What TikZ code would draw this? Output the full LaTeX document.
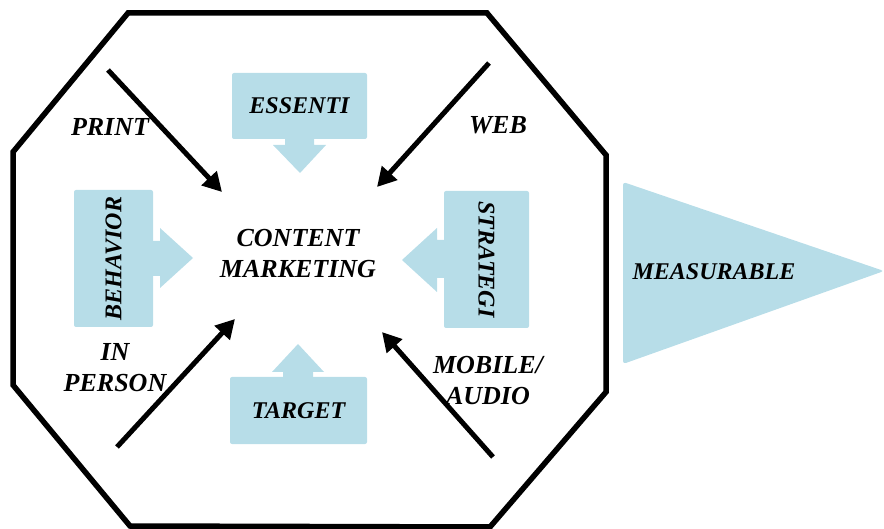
\documentclass[tikz,border=0pt]{standalone}
\usepackage{fontspec}
\setmainfont{Liberation Serif}
\usetikzlibrary{arrows.meta}
\definecolor{lightblue}{RGB}{183,221,232}

\begin{document}
\begin{tikzpicture}[x=1pt, y=-1pt,
    frame/.style={line width=5.5pt, line join=miter},
    channel/.style={line width=5pt, -{Triangle[length=19pt,width=20pt]}},
    label/.style={font=\fontsize{26}{31}\selectfont\bfseries\itshape, align=center},
    box/.style={fill=lightblue, rounded corners=2pt, inner sep=0pt, font=\fontsize{24}{28}\selectfont\bfseries\itshape},
    pointer/.style={fill=lightblue, draw=none}]

    \useasboundingbox (0,0) rectangle (884,529);

    % Octagon frame
    \draw[frame] (128,13) -- (487,13) -- (606,155) -- (606,392) -- (490,527) -- (130,526) -- (13,385) -- (13,152) -- cycle;

    % Blue boxes
    \node[box, minimum width=135pt, minimum height=66pt] (essenti) at (299.5,106) {ESSENTI};
    \node[box, rotate=90, minimum width=137pt, minimum height=79pt] (behavior) at (113.5,258.5) {BEHAVIOR};
    \node[box, rotate=-90, minimum width=137pt, minimum height=85pt] (strategi) at (486.5,259.5) {STRATEGI};
    \node[box, minimum width=137pt, minimum height=67pt] (target) at (298.5,410.5) {TARGET};

    % Block pointers of the boxes
    \fill[pointer] (285,138) -- (285,145) -- (273,145) -- (300,173) -- (326,145) -- (314,145) -- (314,138) -- cycle;
    \fill[pointer] (152,241) -- (160,241) -- (160,228) -- (193,258) -- (160,288) -- (160,276) -- (152,276) -- cycle;
    \fill[pointer] (445,240) -- (437,240) -- (437,228) -- (402,260) -- (437,292) -- (437,278) -- (445,278) -- cycle;
    \fill[pointer] (283,378) -- (283,372) -- (272,372) -- (298,344) -- (324,372) -- (313,372) -- (313,378) -- cycle;

    % Measurable triangle
    \fill[lightblue, rounded corners=3pt] (623,182) -- (884,271) -- (623,364) -- cycle;
    \node[box, fill=none] (measurable) at (714,272) {MEASURABLE};

    % Centre
    \node[label] (content) at (298,254) {CONTENT\\MARKETING};

    % Channel labels
    \node[label] (print) at (110,127) {PRINT};
    \node[label] (web) at (498,125) {WEB};
    \node[label] (inperson) at (115,368) {IN\\PERSON};
    \node[label] (mobile) at (488,381) {MOBILE/\\AUDIO};

    % Channel arrows
    \coordinate (print start) at (108,70);
    \coordinate (print end) at (222,192);
    \coordinate (web start) at (489,63);
    \coordinate (web end) at (377,187);
    \coordinate (inperson start) at (117,447);
    \coordinate (inperson end) at (235,319);
    \coordinate (mobile start) at (493,457);
    \coordinate (mobile end) at (382,332);

    \draw[channel] (print start) -- (print end);
    \draw[channel] (web start) -- (web end);
    \draw[channel] (inperson start) -- (inperson end);
    \draw[channel] (mobile start) -- (mobile end);

\end{tikzpicture}
\end{document}
